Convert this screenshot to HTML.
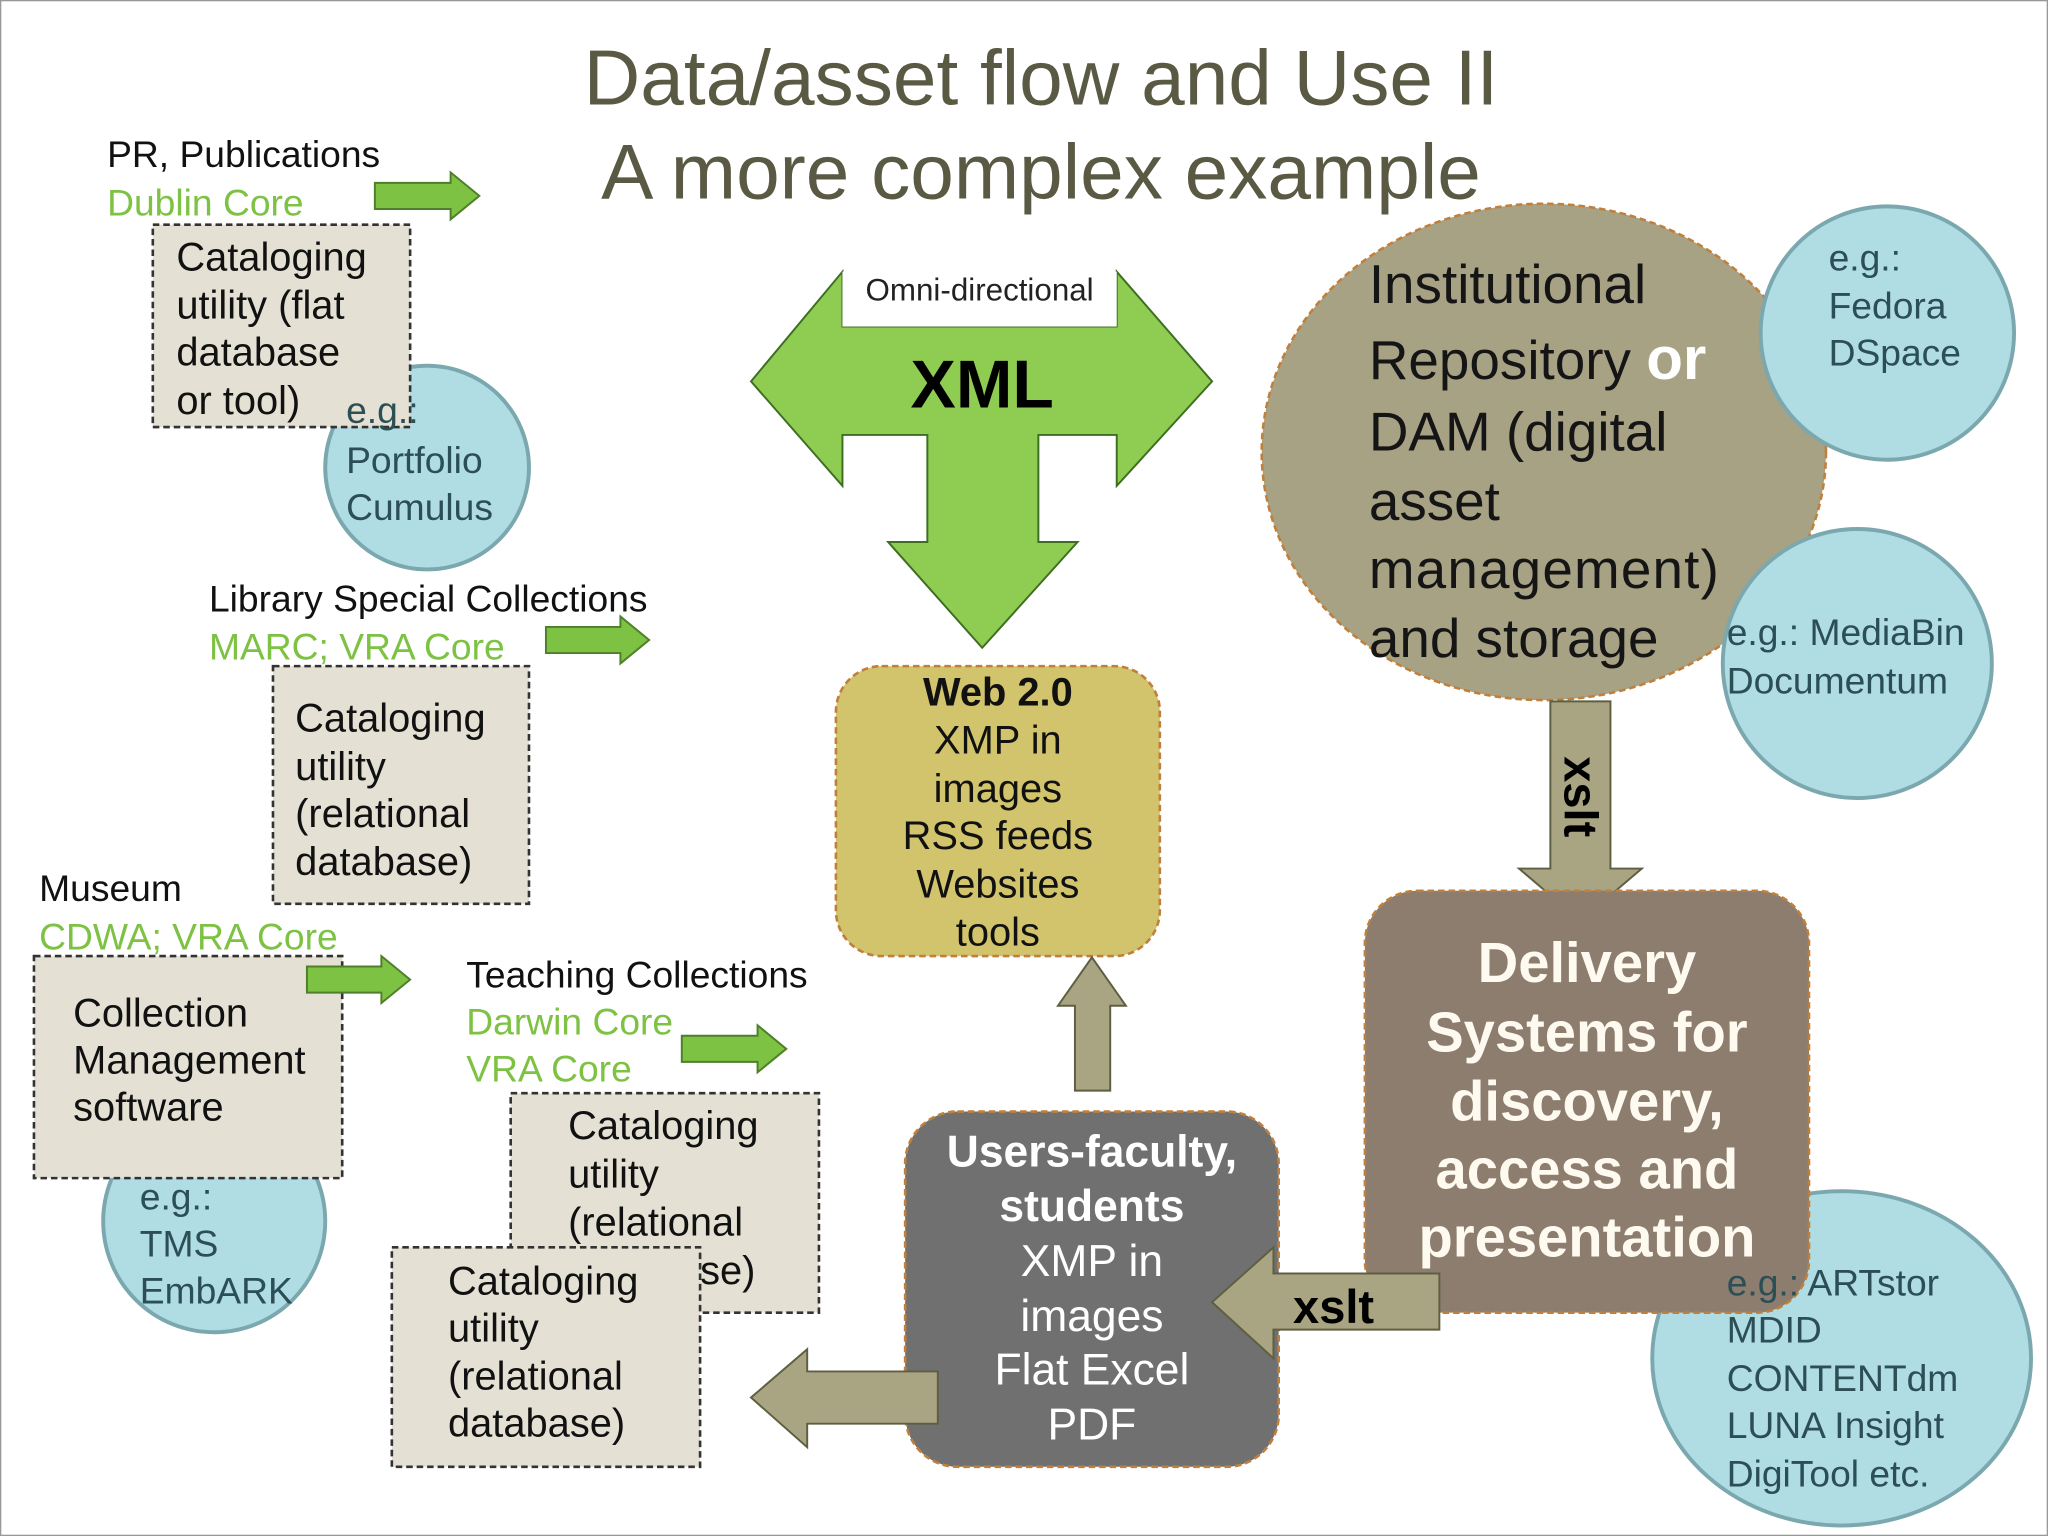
<!DOCTYPE html>
<html><head><meta charset="utf-8"><style>
html,body{margin:0;padding:0;background:#fff}
svg{display:block}
text{font-family:"Liberation Sans",sans-serif}
</style></head><body>
<svg width="2048" height="1536" viewBox="0 0 1568 1176" xmlns="http://www.w3.org/2000/svg">
<rect x="0.5" y="0.5" width="1567" height="1175" fill="#fff" stroke="#999" stroke-width="1"/>
<g fill="#5a5a44" font-size="60" text-anchor="middle">
<text x="797" y="80">Data/asset flow and Use II</text>
<text x="797" y="152">A more complex example</text>
</g>

<g fill="#b0dce4" stroke="#7aa8ae" stroke-width="3">
<circle cx="327" cy="358" r="78"/>
<circle cx="164" cy="935" r="85"/>
<ellipse cx="1410" cy="1040" rx="145" ry="128"/>
</g>

<g font-size="28.5" fill="#111">
<text x="82" y="128">PR, Publications</text>
<text x="160" y="468">Library Special Collections</text>
<text x="30" y="690">Museum</text>
<text x="357" y="756">Teaching Collections</text>
</g>
<g font-size="28.5" fill="#7dc242">
<text x="82" y="165">Dublin Core</text>
<text x="160" y="505">MARC; VRA Core</text>
<text x="30" y="727">CDWA; VRA Core</text>
<text x="357" y="792">Darwin Core</text>
<text x="357" y="828">VRA Core</text>
</g>

<g fill="#e4e1d4" stroke="#333" stroke-width="2" stroke-dasharray="5,3">
<rect x="117" y="172" width="197" height="155"/>
<rect x="209" y="510" width="196" height="182"/>
<rect x="26" y="732" width="236" height="170"/>
<rect x="391" y="837" width="236" height="168"/>
<rect x="300" y="955" width="236" height="168"/>
</g>

<g fill="#7dc242" stroke="#4e7f2a" stroke-width="1.5">
<polygon points="287,140 345,140 345,132 367,150 345,168 345,160 287,160"/>
<polygon points="418,480 475,480 475,472 497,490 475,508 475,500 418,500"/>
<polygon points="235,740 292,740 292,732 314,750 292,768 292,760 235,760"/>
<polygon points="522,793 580,793 580,785 602,803 580,821 580,813 522,813"/>
</g>

<g font-size="30.5" fill="#111">
<text x="135" y="207">Cataloging</text><text x="135" y="244">utility (flat</text><text x="135" y="280">database</text><text x="135" y="317">or tool)</text>
<text x="226" y="560">Cataloging</text><text x="226" y="597">utility</text><text x="226" y="633">(relational</text><text x="226" y="670">database)</text>
<text x="56" y="786">Collection</text><text x="56" y="822">Management</text><text x="56" y="858">software</text>
<text x="435" y="872">Cataloging</text><text x="435" y="909">utility</text><text x="435" y="946">(relational</text><text x="536" y="983">se)</text>
<text x="343" y="991">Cataloging</text><text x="343" y="1027">utility</text><text x="343" y="1064">(relational</text><text x="343" y="1100">database)</text>
</g>
<g font-size="28.5" fill="#2c4e55">
<text x="265" y="324">e.g.:</text><text x="265" y="362">Portfolio</text><text x="265" y="398">Cumulus</text>
<text x="107" y="926">e.g.:</text><text x="107" y="962">TMS</text><text x="107" y="998">EmbARK</text>
</g>

<polygon points="575,292 645,208 645,250 855,250 855,208 928,292 855,372 855,333 795,333 795,415 825,415 752,496 680,415 710,415 710,333 645,333 645,372" fill="#8fcc52" stroke="#3e6e22" stroke-width="1.5"/>
<rect x="645" y="208" width="210" height="42" fill="#fff"/>
<text x="750" y="230" font-size="24" text-anchor="middle" fill="#222">Omni-directional</text>
<text x="752" y="312" font-size="52" font-weight="bold" text-anchor="middle" fill="#000">XML</text>

<rect x="640" y="510" width="248" height="222" rx="35" fill="#d2c46c" stroke="#c0803c" stroke-width="2" stroke-dasharray="5,3"/>
<g font-size="30.5" fill="#111" text-anchor="middle">
<text x="764" y="540" font-weight="bold">Web 2.0</text><text x="764" y="577">XMP in</text><text x="764" y="614">images</text><text x="764" y="650">RSS feeds</text><text x="764" y="687">Websites</text><text x="764" y="724">tools</text>
</g>

<polygon points="823,835 823,770 810,770 836,733 862,770 850,770 850,835" fill="#a9a582" stroke="#5e5e42" stroke-width="1.5"/>

<rect x="693" y="851" width="286" height="272" rx="40" fill="#707070" stroke="#c0803c" stroke-width="2" stroke-dasharray="5,3"/>
<g font-size="34" fill="#fff" text-anchor="middle">
<text x="836" y="893" font-weight="bold">Users-faculty,</text><text x="836" y="935" font-weight="bold">students</text>
<text x="836" y="977">XMP in</text><text x="836" y="1019">images</text><text x="836" y="1060">Flat Excel</text><text x="836" y="1102">PDF</text>
</g>

<polygon points="718,1050 618,1050 618,1033 575,1070 618,1108 618,1090 718,1090" fill="#a9a582" stroke="#5e5e42" stroke-width="1.5"/>

<ellipse cx="1182" cy="346" rx="216" ry="190" fill="#a8a285" stroke="#c0803c" stroke-width="2" stroke-dasharray="5,3"/>
<g fill="#b0dce4" stroke="#7aa8ae" stroke-width="3">
<circle cx="1445" cy="255" r="97"/>
<circle cx="1422" cy="508" r="103"/>
</g>
<g font-size="42" fill="#151515">
<text x="1048" y="232">Institutional</text>
<text x="1048" y="290">Repository <tspan fill="#fff" font-weight="bold" font-size="46">or</tspan></text>
<text x="1048" y="345">DAM (digital</text><text x="1048" y="398">asset</text><text x="1048" y="450" textLength="268">management)</text><text x="1048" y="503">and storage</text>
</g>
<g font-size="28.5" fill="#2c4e55">
<text x="1400" y="207">e.g.:</text><text x="1400" y="244">Fedora</text><text x="1400" y="280">DSpace</text>
<text x="1322" y="494">e.g.: MediaBin</text><text x="1322" y="531">Documentum</text>
</g>

<polygon points="1187,537 1233,537 1233,665 1257,665 1210,705 1163,665 1187,665" fill="#a9a582" stroke="#5e5e42" stroke-width="1.5"/>
<text x="0" y="0" font-size="36" font-weight="bold" fill="#000" text-anchor="middle" transform="translate(1198,610) rotate(90)">xslt</text>

<rect x="1045" y="682" width="340" height="323" rx="40" fill="#8c7d6e" stroke="#c0803c" stroke-width="2" stroke-dasharray="5,3"/>
<g font-size="43" font-weight="bold" fill="#fffaf0" text-anchor="middle">
<text x="1215" y="752">Delivery</text><text x="1215" y="805">Systems for</text><text x="1215" y="858">discovery,</text><text x="1215" y="910">access and</text><text x="1215" y="962">presentation</text>
</g>
<g font-size="28.5" fill="#2c4e55">
<text x="1322" y="992">e.g.: ARTstor</text><text x="1322" y="1028">MDID</text><text x="1322" y="1065">CONTENTdm</text><text x="1322" y="1101">LUNA Insight</text><text x="1322" y="1138">DigiTool etc.</text>
</g>

<polygon points="1102,975 1102,1018 975,1018 975,1040 928,997 975,955 975,975" fill="#a9a582" stroke="#5e5e42" stroke-width="1.5"/>
<text x="990" y="1013" font-size="36" font-weight="bold" fill="#000">xslt</text>
</svg>
</body></html>
